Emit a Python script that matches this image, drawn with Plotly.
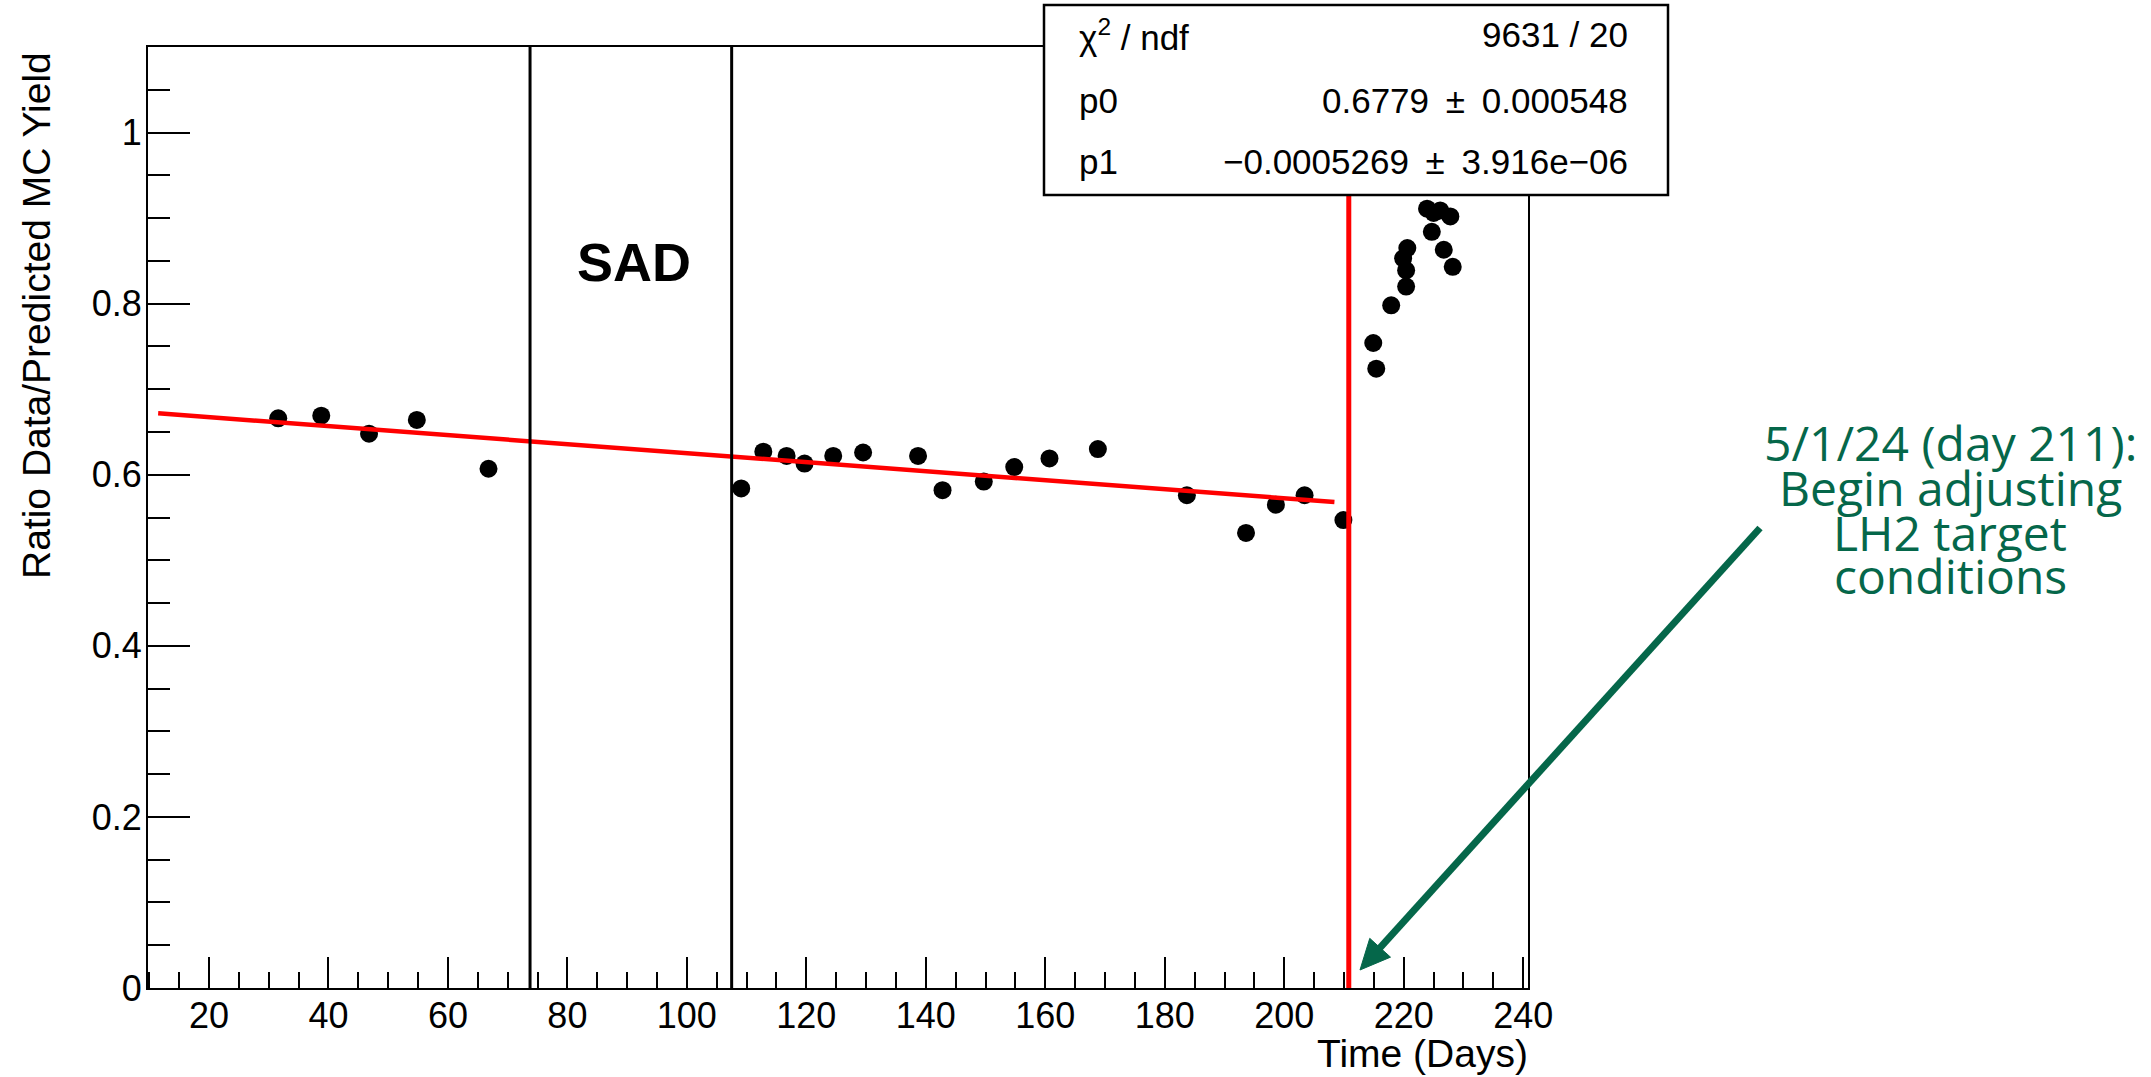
import math
import plotly.graph_objects as go

# ---------------- data ----------------
days = [31.6, 38.8, 46.8, 54.8, 66.8,
        109.1, 112.8, 116.7, 119.7, 124.5, 129.5, 138.7, 142.8, 149.7, 154.8,
        160.7, 168.8, 183.7, 193.6, 198.6, 203.4, 209.9,
        214.9, 215.4, 217.9, 220.6, 219.9, 220.4, 220.4,
        223.9, 225.0, 226.1, 227.8, 224.7, 226.7, 228.2]
ratio = [0.666, 0.669, 0.648, 0.664, 0.607,
         0.584, 0.627, 0.622, 0.613, 0.622, 0.626, 0.622, 0.582, 0.592, 0.609,
         0.619, 0.630, 0.576, 0.532, 0.565, 0.576, 0.547,
         0.754, 0.724, 0.798, 0.865, 0.853, 0.839, 0.820,
         0.911, 0.906, 0.909, 0.902, 0.884, 0.863, 0.843]

# linear fit shown in the stats box
p0 = 0.6779
p1 = -0.0005269
fit_range = [11.5, 208.4]

sad_lines = [73.75, 107.5]     # black vertical lines bounding "SAD"
adjust_day = 210.8             # red vertical line (day 211)

stats_labels = ["χ<sup>2</sup> / ndf", "p0", "p1"]
stats_values = ["9631 / 20",
                "0.6779\u2009 ±\u2009 0.000548",
                "−0.0005269\u2009 ±\u2009 3.916e−06"]

note_lines = ["5/1/24 (day 211):", "Begin adjusting", "LH2 target", "conditions"]

x_range = [9.8, 240.8]
y_range = [0, 1.1]

# ---------------- layout geometry (page pixels) ----------------
W, H = 2151, 1077
L, R, T, B = 148, 1528, 47, 988  # plot area in page pixels


def px_x(px):
    return (px - L) / (R - L)


def px_y(py):
    return (B - py) / (B - T)


FONT = "Liberation Sans, Arial, Helvetica, sans-serif"
GREEN = "#05674A"

fig = go.Figure()

fig.add_trace(go.Scatter(
    x=days, y=ratio, mode="markers",
    marker=dict(color="black", size=18, line=dict(width=0)),
    showlegend=False, hoverinfo="x+y"))

fit_x = fit_range
fit_y = [p0 + p1 * v for v in fit_x]
fig.add_trace(go.Scatter(
    x=fit_x, y=fit_y, mode="lines",
    line=dict(color="#ff0000", width=4.5),
    showlegend=False, hoverinfo="skip"))

shapes = []
for d in sad_lines:
    shapes.append(dict(type="line", xref="x", yref="y", x0=d, x1=d,
                       y0=y_range[0], y1=y_range[1],
                       line=dict(color="black", width=3), layer="above"))
shapes.append(dict(type="line", xref="x", yref="y", x0=adjust_day, x1=adjust_day,
                   y0=y_range[0], y1=y_range[1],
                   line=dict(color="#ff0000", width=5), layer="above"))
# stats box
shapes.append(dict(type="rect", xref="paper", yref="paper",
                   x0=px_x(1044), x1=px_x(1668), y0=px_y(195), y1=px_y(5),
                   fillcolor="white", line=dict(color="black", width=2.5),
                   layer="above"))

# green arrow (tail -> tip, page pixels)
tail = (1760, 528)
tip = (1360, 970)
head_len, head_half = 30, 14
dx, dy = tip[0] - tail[0], tip[1] - tail[1]
n = math.hypot(dx, dy)
ux, uy = dx / n, dy / n
bx, by = tip[0] - head_len * ux, tip[1] - head_len * uy
c1 = (bx - head_half * uy, by + head_half * ux)
c2 = (bx + head_half * uy, by - head_half * ux)
shapes.append(dict(type="line", xref="paper", yref="paper",
                   x0=px_x(tail[0]), y0=px_y(tail[1]),
                   x1=px_x(bx + 4 * ux), y1=px_y(by + 4 * uy),
                   line=dict(color=GREEN, width=7), layer="above"))
head_path = "M {:.5f},{:.5f} L {:.5f},{:.5f} L {:.5f},{:.5f} Z".format(
    px_x(tip[0]), px_y(tip[1]), px_x(c1[0]), px_y(c1[1]), px_x(c2[0]), px_y(c2[1]))
shapes.append(dict(type="path", xref="paper", yref="paper", path=head_path,
                   fillcolor=GREEN, line=dict(color=GREEN, width=1), layer="above"))

annotations = []
row_y = [35, 100, 162]
for lab, val, ry in zip(stats_labels, stats_values, row_y):
    annotations.append(dict(xref="paper", yref="paper", x=px_x(1077), y=px_y(ry),
                            text=lab, showarrow=False, xanchor="left", yanchor="middle",
                            font=dict(family=FONT, size=35, color="black")))
    annotations.append(dict(xref="paper", yref="paper", x=px_x(1630), y=px_y(ry),
                            text=val, showarrow=False, xanchor="right", yanchor="middle",
                            font=dict(family=FONT, size=35, color="black")))

annotations.append(dict(xref="x", yref="y", x=91.2, y=0.849, text="<b>SAD</b>",
                        showarrow=False, xanchor="center", yanchor="middle",
                        font=dict(family=FONT, size=54, color="black")))

# axis titles (ROOT style, right aligned)
annotations.append(dict(xref="paper", yref="paper", x=px_x(1530), y=px_y(1053),
                        text="Time (Days)", showarrow=False, xanchor="right",
                        yanchor="middle",
                        font=dict(family=FONT, size=39, color="black")))
annotations.append(dict(xref="paper", yref="paper", x=px_x(37), y=px_y(316),
                        text="Ratio Data/Predicted MC Yield", showarrow=False,
                        textangle=-90, xanchor="center", yanchor="middle",
                        font=dict(family=FONT, size=39, color="black")))

# green note
note_y = [442, 487, 532, 576]
for txt, ny in zip(note_lines, note_y):
    annotations.append(dict(xref="paper", yref="paper", x=px_x(1950), y=px_y(ny),
                            text=txt, showarrow=False, xanchor="center",
                            yanchor="middle",
                            font=dict(family="Open Sans, sans-serif", size=48,
                                      color=GREEN)))

axis_common = dict(showline=True, linecolor="black", linewidth=2, mirror=True,
                   ticks="inside", tickcolor="black", tickwidth=2,
                   showgrid=False, zeroline=False,
                   tickfont=dict(family=FONT, size=36, color="black"))

fig.update_layout(
    width=W, height=H, autosize=False,
    margin=dict(l=L, r=W - R, t=T, b=H - B, pad=0),
    paper_bgcolor="white", plot_bgcolor="white",
    shapes=shapes, annotations=annotations,
    xaxis=dict(range=x_range, tick0=0, dtick=20, ticklen=31, ticklabelstandoff=-5,
               minor=dict(ticks="inside", dtick=5, ticklen=16, tickcolor="black",
                          tickwidth=2, showgrid=False),
               **axis_common),
    yaxis=dict(range=y_range, tick0=0, dtick=0.2, ticklen=42, ticklabelstandoff=-3,
               minor=dict(ticks="inside", dtick=0.05, ticklen=22, tickcolor="black",
                          tickwidth=2, showgrid=False),
               **axis_common),
)

fig.write_html("out.html",
               config={"displayModeBar": False},
               post_script="document.body.style.margin='0px';"
                           "document.body.style.overflow='hidden';")
